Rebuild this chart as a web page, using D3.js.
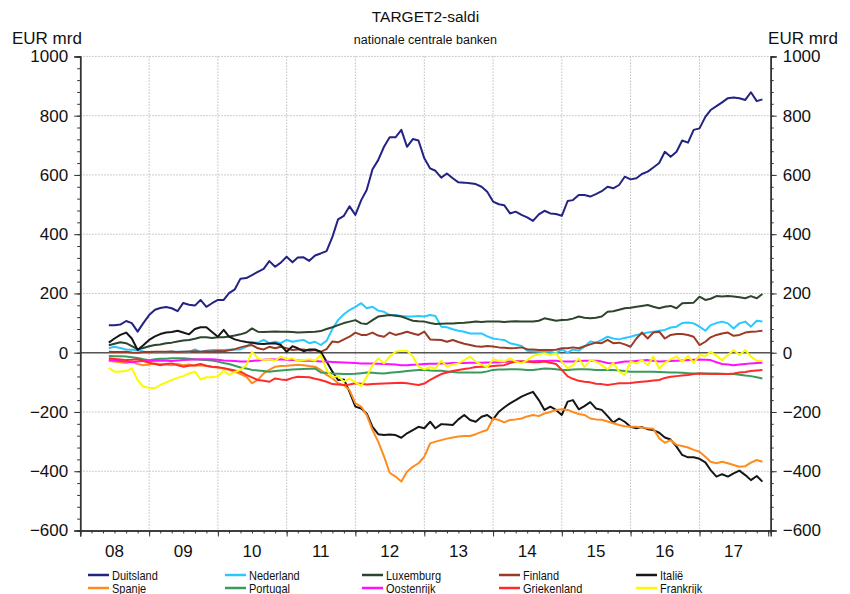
<!DOCTYPE html>
<html>
<head>
<meta charset="utf-8">
<script src="https://cdn.jsdelivr.net/npm/d3@7"></script>
<style>
  body { margin: 0; background: #fff; }
  svg text { font-family: "Liberation Sans", Arial, sans-serif; fill: #111; }
</style>
</head>
<body>
<svg width="850" height="594"></svg>
<script>
// Monthly TARGET2 balances (EUR bn), June 2008 - December 2017
const duitsland = [
  93, 93, 95, 107, 100, 71, 100, 127, 145, 151,
  154, 150, 140, 168, 162, 159, 178, 155, 167, 178,
  178, 201, 214, 250, 252, 262, 273, 283, 309, 290,
  304, 324, 305, 321, 322, 310, 328, 335, 343, 391,
  450, 462, 494, 465, 515, 549, 619, 650, 695, 727,
  727, 752, 695, 721, 716, 656, 622, 614, 591, 605,
  589, 575, 574, 572, 569, 560, 543, 510, 501, 498,
  470, 476, 465, 457, 445, 467, 479, 470, 468, 462,
  512, 515, 532, 532, 527, 535, 545, 560, 555, 566,
  594, 585, 589, 603, 611, 625, 640, 678, 661, 678,
  716, 709, 752, 757, 796, 819, 832, 845, 859, 861,
  859, 853, 879, 849, 855
];
const nederland = [
  15, 20, 16, 11, 10, 9, 4, -2, 0, 0,
  2, 3, 3, 3, 3, 11, 3, 7, 9, 9,
  9, 10, 11, 11, 20, 35, 34, 43, 32, 37,
  32, 43, 37, 40, 43, 32, 37, 26, 40, 80,
  110, 130, 144, 155, 167, 150, 155, 142, 138, 127,
  127, 124, 122, 122, 124, 122, 127, 124, 88, 86,
  79, 74, 71, 65, 65, 65, 55, 48, 45, 43,
  32, 28, 23, 7, 5, 3, 3, 3, -2, 11,
  0, 11, 7, 20, 38, 34, 43, 54, 48, 45,
  50, 54, 60, 63, 68, 71, 74, 77, 85, 88,
  100, 102, 99, 88, 74, 93, 100, 105, 99, 82,
  99, 105, 88, 108, 105
];
const luxemburg = [
  25, 30, 35, 32, 22, 12, 16, 22, 26, 28,
  32, 34, 38, 41, 43, 47, 52, 52, 50, 52,
  52, 55, 58, 62, 68, 82, 71, 70, 71, 72,
  71, 71, 70, 68, 69, 70, 71, 73, 80, 86,
  93, 100, 105, 110, 99, 97, 110, 122, 125, 127,
  125, 122, 115, 108, 106, 105, 100, 97, 98, 99,
  99, 100, 101, 103, 105, 104, 105, 105, 105, 104,
  105, 106, 105, 105, 105, 108, 116, 112, 108, 110,
  111, 115, 122, 118, 116, 118, 122, 138, 140, 145,
  150, 152, 155, 158, 161, 155, 150, 155, 158, 150,
  167, 168, 169, 189, 178, 182, 191, 190, 191, 190,
  187, 184, 191, 184, 198
];
const finland = [
  3, 2, 2, 3, 1, 0, 2, 2, 3, 3,
  3, 4, 2, 3, 4, 5, 3, 5, 4, 6,
  5, 8, 12, 18, 23, 26, 15, 11, 20, 15,
  20, 15, 9, 11, 11, 7, 9, 3, 12, 38,
  35, 45, 54, 68, 60, 60, 68, 58, 54, 68,
  60, 65, 71, 65, 60, 71, 45, 44, 43, 37,
  43, 36, 30, 26, 22, 20, 23, 21, 18, 17,
  15, 16, 18, 12, 11, 9, 9, 9, 10, 15,
  15, 18, 15, 22, 28, 34, 32, 43, 32, 34,
  28, 20, 48, 68, 48, 68, 71, 48, 60, 63,
  63, 60, 54, 26, 37, 52, 60, 65, 68, 57,
  60, 68, 71, 72, 74
];
const italie = [
  34, 48, 60, 68, 48, 9, 25, 43, 55, 63,
  68, 70, 74, 68, 62, 80, 86, 86, 70, 54,
  77, 54, 45, 40, 36, 34, 30, 29, 31, 32,
  26, 3, 22, 15, 5, 11, 11, 3, -30, -64,
  -92, -90, -132, -182, -188, -205, -250, -275, -278, -276,
  -278, -287, -272, -261, -250, -255, -233, -255, -241, -242,
  -244, -225, -210, -227, -233, -216, -210, -225, -199, -185,
  -171, -160, -148, -140, -132, -160, -193, -182, -193, -210,
  -165, -160, -191, -180, -167, -188, -193, -214, -236, -222,
  -233, -250, -255, -251, -258, -261, -270, -286, -293, -317,
  -345, -353, -353, -358, -370, -396, -418, -410, -418, -407,
  -398, -413, -430, -416, -435
];
const spanje = [
  -28, -30, -32, -35, -30, -38, -42, -40, -36, -38,
  -40, -42, -38, -42, -40, -44, -42, -45, -48, -50,
  -53, -58, -64, -72, -81, -103, -92, -70, -58, -47,
  -45, -44, -42, -41, -42, -45, -47, -58, -75, -86,
  -103, -110, -126, -171, -182, -210, -261, -300, -350, -405,
  -418, -435, -402, -385, -373, -351, -306, -300, -295, -290,
  -286, -283, -281, -281, -275, -267, -261, -222, -227, -235,
  -227, -225, -222, -215, -210, -214, -205, -200, -193, -191,
  -193, -200, -207, -210, -222, -225, -226, -232, -238, -244,
  -248, -250, -250, -252, -255, -257, -289, -304, -295, -311,
  -315, -320, -328, -334, -351, -368, -373, -368, -373, -379,
  -385, -383, -371, -362, -368
];
const portugal = [
  -11, -12, -12, -13, -15, -18, -22, -25, -22, -20,
  -20, -19, -19, -19, -20, -22, -24, -25, -26, -30,
  -35, -38, -44, -50, -53, -58, -60, -62, -64, -62,
  -60, -58, -57, -56, -55, -54, -53, -67, -68, -70,
  -71, -72, -72, -71, -69, -67, -68, -69, -70, -68,
  -66, -64, -62, -60, -58, -58, -60, -61, -61, -63,
  -65, -67, -67, -67, -67, -67, -63, -58, -57, -57,
  -56, -56, -57, -58, -58, -56, -53, -54, -56, -58,
  -58, -57, -56, -56, -57, -58, -58, -58, -58, -60,
  -62, -64, -64, -64, -64, -64, -65, -66, -67, -67,
  -68, -69, -70, -70, -70, -70, -70, -71, -72, -72,
  -74, -77, -79, -83, -87
];
const oostenrijk = [
  -25, -26, -28, -30, -32, -30, -28, -28, -27, -26,
  -27, -28, -26, -25, -24, -23, -22, -22, -22, -24,
  -26, -27, -28, -30, -30, -28, -26, -24, -22, -23,
  -22, -24, -25, -26, -27, -27, -28, -30, -30, -31,
  -32, -33, -34, -35, -36, -36, -36, -37, -38, -39,
  -40, -42, -42, -41, -40, -38, -37, -37, -36, -36,
  -35, -35, -35, -34, -34, -34, -33, -33, -32, -31,
  -30, -30, -30, -29, -29, -28, -28, -27, -27, -30,
  -30, -30, -28, -27, -27, -27, -30, -35, -36, -33,
  -30, -30, -28, -26, -25, -27, -30, -29, -28, -27,
  -26, -25, -24, -23, -24, -25, -32, -38, -40, -42,
  -40, -38, -36, -35, -34
];
const griekenland = [
  -19, -21, -23, -25, -24, -22, -28, -34, -38, -42,
  -38, -36, -42, -47, -44, -42, -38, -44, -47, -49,
  -52, -56, -60, -64, -75, -83, -92, -95, -98, -87,
  -90, -92, -85, -81, -82, -83, -88, -92, -98, -106,
  -107, -109, -107, -103, -105, -107, -106, -105, -104, -103,
  -102, -101, -103, -106, -109, -104, -92, -82, -72, -67,
  -62, -58, -55, -52, -48, -47, -47, -45, -43, -42,
  -35, -30, -30, -30, -32, -32, -30, -34, -38, -58,
  -80, -88, -95, -98, -100, -105, -106, -109, -106, -103,
  -103, -102, -100, -98, -96, -94, -92, -85, -81, -79,
  -77, -75, -72, -70, -71, -72, -72, -72, -72, -70,
  -67, -65, -62, -60, -58
];
const frankrijk = [
  -51, -64, -63, -62, -53, -92, -115, -118, -120, -109,
  -100, -92, -85, -79, -70, -64, -90, -83, -83, -79,
  -61, -75, -65, -58, -42, 3, -19, -25, -22, -27,
  -13, -22, -19, -27, -25, -22, -27, -8, -58, -83,
  -79, -98, -87, -100, -112, -81, -42, -19, -36, -13,
  3, 7, 7, -13, -47, -56, -49, -53, -27, -47,
  -40, -36, -25, -13, -30, -40, -49, -22, -28, -30,
  -19, -30, -36, -25, -11, -5, -2, -8, -2, -30,
  -53, -42, -19, -49, -25, -30, -42, -56, -34, -64,
  -75, -30, -36, -25, -42, -13, -53, -34, -22, -13,
  -30, -11, -34, -8, -11, 3, -10, -25, -8, 9,
  -8, 9, -13, -27, -27
];

const countries = ["Duitsland", "Nederland", "Luxemburg", "Finland", "Italië",
                   "Spanje", "Portugal", "Oostenrijk", "Griekenland", "Frankrijk"];
const seriesValues = [duitsland, nederland, luxemburg, finland, italie,
                      spanje, portugal, oostenrijk, griekenland, frankrijk];
const colors = ["#232383", "#29c8ff", "#2c452c", "#9b3b26", "#161616",
                "#ff8c1e", "#3a9a5e", "#ff10ff", "#ff2a2a", "#fafa00"];

const yTicks = [-600, -400, -200, 0, 200, 400, 600, 800, 1000];
const yearLabels = ["08", "09", "10", "11", "12", "13", "14", "15", "16", "17"];

// monthly dates June 2008 .. Dec 2017
const months = d3.timeMonth.range(new Date(2008, 5, 1), new Date(2018, 0, 1));

// Set dimensions
const margin = { top: 56.4, right: 79.3, bottom: 63.5, left: 80.2 };
const width = 850 - margin.left - margin.right;
const height = 594 - margin.top - margin.bottom;

const svg = d3.select("svg");
svg.append("rect").attr("width", 850).attr("height", 594).attr("fill", "#fff");

const g = svg.append("g")
  .attr("transform", `translate(${margin.left},${margin.top})`);

const xScale = d3.scaleTime()
  .domain([new Date(2008, 0, 1), new Date(2018, 0, 14)])
  .range([0, width]);

const yScale = d3.scaleLinear()
  .domain([-600, 1000])
  .range([height, 0]);

// grid lines
g.selectAll(".hgrid")
  .data(yTicks.filter(d => d > -600))
  .enter()
  .append("line")
  .attr("x1", 0).attr("x2", width)
  .attr("y1", d => yScale(d)).attr("y2", d => yScale(d))
  .attr("stroke", "#bdbdbd")
  .attr("stroke-width", 1)
  .attr("stroke-dasharray", "1.5,1.5");

g.selectAll(".vgrid")
  .data(d3.range(2009, 2018))
  .enter()
  .append("line")
  .attr("x1", d => xScale(new Date(d, 0, 1))).attr("x2", d => xScale(new Date(d, 0, 1)))
  .attr("y1", 0).attr("y2", height)
  .attr("stroke", "#bdbdbd")
  .attr("stroke-width", 1)
  .attr("stroke-dasharray", "1.5,1.5");

// zero line
g.append("line")
  .attr("x1", 0).attr("x2", width)
  .attr("y1", yScale(0)).attr("y2", yScale(0))
  .attr("stroke", "#555")
  .attr("stroke-width", 1.6);

// axes
function styleAxis(sel) {
  sel.select(".domain").attr("stroke", "#333").attr("stroke-width", 1.5);
  sel.selectAll(".tick line").attr("stroke", "#333");
  sel.selectAll(".tick text")
    .attr("font-size", 17)
    .attr("font-family", "Liberation Sans, Arial, sans-serif")
    .attr("fill", "#111");
}

g.append("g")
  .call(d3.axisLeft(yScale).tickValues(d3.range(-600, 1001, 40)).tickSize(3).tickFormat(""))
  .call(styleAxis);
g.append("g")
  .call(d3.axisLeft(yScale).tickValues(yTicks).tickSize(6).tickPadding(6).tickFormat(d3.format("d")))
  .call(styleAxis);

g.append("g")
  .attr("transform", `translate(${width},0)`)
  .call(d3.axisRight(yScale).tickValues(d3.range(-600, 1001, 40)).tickSize(3).tickFormat(""))
  .call(styleAxis);
g.append("g")
  .attr("transform", `translate(${width},0)`)
  .call(d3.axisRight(yScale).tickValues(yTicks).tickSize(6).tickPadding(6).tickFormat(d3.format("d")))
  .call(styleAxis);

g.append("g")
  .attr("transform", `translate(0,${height})`)
  .call(d3.axisBottom(xScale).ticks(d3.timeMonth.every(2)).tickSize(3).tickFormat(""))
  .call(styleAxis);
g.append("g")
  .attr("transform", `translate(0,${height})`)
  .call(d3.axisBottom(xScale).ticks(d3.timeYear).tickSize(6).tickFormat(""))
  .call(styleAxis);

// year labels in middle of each year
g.selectAll(".yearlabel")
  .data(yearLabels)
  .enter()
  .append("text")
  .attr("x", (d, i) => xScale(new Date(2008 + i, 6, 1)))
  .attr("y", height + 27)
  .attr("text-anchor", "middle")
  .attr("font-size", 17)
  .text(d => d);

// series lines
const line = d3.line()
  .x((d, i) => xScale(months[i]))
  .y(d => yScale(d));

g.selectAll(".series")
  .data(seriesValues)
  .enter()
  .append("path")
  .attr("fill", "none")
  .attr("stroke", (d, i) => colors[i])
  .attr("stroke-width", 2)
  .attr("stroke-linejoin", "round")
  .attr("d", line);

// titles
svg.append("text")
  .attr("x", margin.left + width / 2)
  .attr("y", 22)
  .attr("text-anchor", "middle")
  .attr("font-size", 15.5)
  .text("TARGET2-saldi");

svg.append("text")
  .attr("x", margin.left + width / 2)
  .attr("y", 44)
  .attr("text-anchor", "middle")
  .attr("font-size", 12.5)
  .text("nationale centrale banken");

svg.append("text")
  .attr("x", 12)
  .attr("y", 44)
  .attr("font-size", 17)
  .text("EUR mrd");

svg.append("text")
  .attr("x", 838)
  .attr("y", 44)
  .attr("text-anchor", "end")
  .attr("font-size", 17)
  .text("EUR mrd");

// legend
const legend = svg.append("g").attr("class", "legend");
const item = legend.selectAll("g")
  .data(countries)
  .enter()
  .append("g")
  .attr("transform", (d, i) => `translate(${88 + (i % 5) * 137},${i < 5 ? 575 : 588})`);

item.append("line")
  .attr("x1", 0).attr("x2", 21)
  .attr("y1", 0).attr("y2", 0)
  .attr("stroke", (d, i) => colors[i])
  .attr("stroke-width", 2.5);

// slightly condensed legend text, like the narrow font of the original
item.append("text")
  .attr("transform", "translate(24,4.5) scale(0.88,1)")
  .attr("font-size", 12.5)
  .text(d => d);
</script>
</body>
</html>
